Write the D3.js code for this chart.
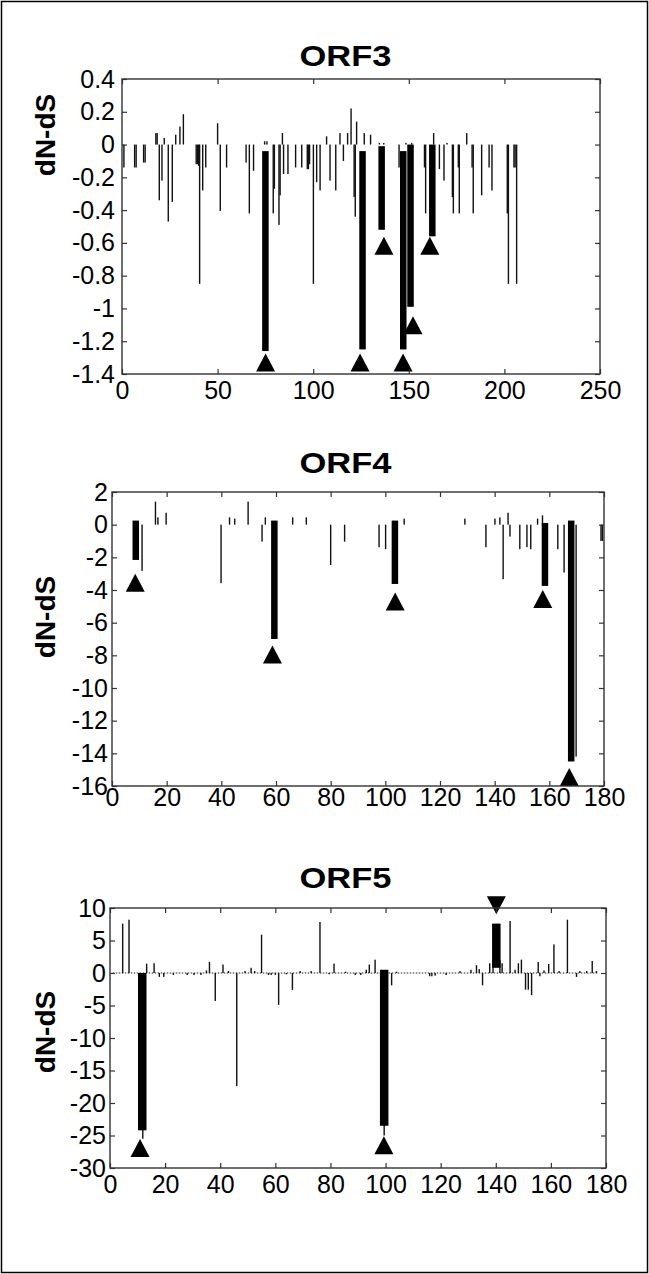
<!DOCTYPE html>
<html>
<head>
<meta charset="utf-8">
<script src="https://cdn.jsdelivr.net/npm/d3@7"></script>
<style>
  body { margin: 0; background: #fff; }
  text { font-family: 'Liberation Sans', Arial, Helvetica, sans-serif; fill: #000; }
</style>
</head>
<body>
<div id="chart"></div>
<script>
// ORF3 -- thin bars [codon, dN-dS]
const orf3Bars = [
  [1.0, -0.14], [6.6, -0.14], [7.4, -0.14], [11.3, -0.11], [12.1, -0.11],
  [17.7, 0.07], [18.4, 0.07], [19.5, -0.34], [20.9, -0.22], [22.1, 0.04],
  [24.2, -0.47], [26.3, -0.35], [28.1, 0.06], [30.3, 0.11], [32.1, 0.185],
  [38.8, -0.12], [39.5, -0.12], [40.1, -0.13], [40.6, -0.85], [42.2, -0.28],
  [43.8, -0.14], [50.0, 0.13], [51.4, -0.405], [54.7, -0.14], [64.9, -0.11],
  [66.6, -0.42], [68.8, -0.16], [74.6, 0.02], [75.8, 0.02], [79.1, -0.42],
  [79.7, -0.27], [82.1, -0.49], [82.7, -0.31], [83.9, 0.07], [84.5, -0.18],
  [86.8, -0.18], [90.8, -0.14], [94.0, -0.14], [96.9, -0.15], [97.5, -0.15],
  [98.1, -0.12], [100.1, -0.85], [101.8, -0.23], [103.6, -0.28], [107.0, 0.05],
  [108.8, -0.22], [111.8, -0.28], [114.0, 0.07], [115.8, -0.1], [118.0, 0.07],
  [119.8, 0.22], [121.4, -0.32], [122.0, -0.44], [122.7, 0.14], [126.7, 0.07],
  [130.0, 0.06], [134.6, 0.01], [136.9, 0.01], [144.9, -0.14], [148.5, 0.01],
  [151.5, 0.01], [158.2, -0.14], [158.8, -0.42], [163.0, 0.07], [166.0, -0.15],
  [168.4, -0.22], [170.0, 0.01], [172.8, -0.32], [173.3, -0.42], [175.9, -0.14],
  [176.4, -0.42], [180.3, 0.07], [183.1, -0.14], [183.7, -0.42], [188.1, -0.31],
  [192.0, -0.14], [193.5, -0.28], [201.5, -0.42], [202.1, -0.85], [205.0, -0.14],
  [205.6, -0.14], [206.4, -0.85]
]
// thick bars [codon, from, to]
const orf3Thick = [
  [75.0, -0.04, -1.26], [125.8, -0.04, -1.25], [135.8, -0.01, -0.52],
  [147.1, -0.04, -1.25], [150.9, 0, -0.99], [162.3, 0, -0.56]
]
// triangle markers [codon, value]
const orf3Up = [[75.1, -1.385], [124.5, -1.385], [137.0, -0.673], [147.0, -1.385], [152.2, -1.157], [161.0, -0.673]]
const orf3XTicks = [0, 50, 100, 150, 200, 250]
const orf3YTicks = [0.4, 0.2, 0, -0.2, -0.4, -0.6, -0.8, -1, -1.2, -1.4]

// ORF4
const orf4Bars = [
  [11.0, -2.83], [15.9, 1.41], [16.8, 0.45], [19.8, 0.73], [39.9, -3.58],
  [43.0, 0.45], [44.9, 0.37], [49.8, 1.41], [54.9, -1.04], [56.1, 0.45],
  [66.1, 0.45], [71.1, 0.45], [80.0, -2.47], [85.1, -1.04], [97.7, -1.38],
  [100.1, -1.5], [106.9, 0.37], [129.1, 0.37], [136.8, -1.38], [140.1, 0.37],
  [141.9, 0.45], [143.1, -3.34], [144.9, 0.73], [145.6, -0.73], [149.2, -1.5],
  [151.8, -1.38], [153.2, -1.5], [155.7, 0.37], [157.5, 0.57], [163.1, -1.5],
  [165.4, -2.93], [169.8, -14.2], [178.9, -1.0], [179.4, -1.0]
]
const orf4Thick = [
  [8.7, 0.25, -2.16], [59.4, 0.25, -7.0], [103.5, 0.25, -3.63],
  [158.4, 0.1, -3.75], [168.0, 0.25, -14.5]
]
const orf4Up = [[8.5, -4.1], [58.7, -8.5], [103.6, -5.25], [157.6, -5.1], [167.3, -16]]
const orf4XTicks = [0, 20, 40, 60, 80, 100, 120, 140, 160, 180]
const orf4YTicks = [2, 0, -2, -4, -6, -8, -10, -12, -14, -16]

// ORF5
const orf5Bars = [
  [4.6, 7.6], [6.9, 8.2], [11.9, -25.5], [13.3, 1.44], [16.0, 1.5],
  [17.9, -0.6], [19.5, -0.6], [23.0, -0.3], [28.0, -0.3], [30.5, -0.3],
  [33.0, -0.3], [35.0, 0.4], [36.1, 1.7], [38.2, -4.3], [41.0, 1.3],
  [43.0, 0.3], [46.0, -17.4], [49.0, 0.3], [51.2, 0.8], [52.5, 0.3],
  [55.0, 5.9], [57.5, -0.3], [58.5, -0.3], [60.0, -0.3], [61.2, -4.9],
  [64.0, -0.2], [66.2, -2.6], [69.0, 0.3], [73.0, 0.3], [76.2, 7.85],
  [79.5, -0.2], [81.3, 1.44], [85.5, 0.2], [89.0, -0.3], [91.0, -0.3],
  [93.0, 0.5], [94.1, 1.3], [96.2, 2.05], [99.5, -25.0], [102.2, -1.9],
  [104.0, 0.2], [116.0, -0.5], [116.8, -0.5], [118.0, -0.4], [122.0, -0.3],
  [127.0, 0.3], [131.0, 0.5], [133.0, 1.2], [134.0, 0.6], [135.2, -1.9],
  [137.8, 1.5], [139.0, 2.0], [141.5, 2.0], [142.3, 1.5], [145.2, 8.0],
  [147.0, 0.5], [148.2, 1.5], [149.3, 2.05], [150.8, -2.56], [151.8, -2.56],
  [153.0, -3.4], [155.4, 1.7], [156.0, -0.5], [157.5, 0.4], [159.2, 1.4],
  [161.1, 4.4], [163.0, 0.3], [166.0, 8.2], [169.3, -0.6], [170.5, 0.3],
  [173.0, 0.3], [175.0, 1.85], [176.5, 0.3]
]
const orf5Thick = [[11.7, 0, -24.2], [99.5, 0.5, -23.5], [140.2, 0.8, 7.6]]
const orf5Up = [[10.9, -28.3], [99.4, -27.9]]
const orf5Down = [[140.2, 11.8]]
const orf5XTicks = [0, 20, 40, 60, 80, 100, 120, 140, 160, 180]
const orf5YTicks = [10, 5, 0, -5, -10, -15, -20, -25, -30]

const width = 649
const height = 1274

const svg = d3
  .select('#chart')
  .append('svg')
  .attr('width', width)
  .attr('height', height)

svg
  .append('rect')
  .attr('x', 1.5)
  .attr('y', 1.5)
  .attr('width', width - 3)
  .attr('height', height - 3)
  .attr('fill', '#fff')
  .attr('stroke', '#000')
  .attr('stroke-width', 1.5)

const panels = [
  {
    title: 'ORF3', titleY: 66, labelY: 135,
    left: 122, right: 600, top: 79, bottom: 374,
    xDomain: [0, 250], yDomain: [-1.4, 0.4],
    xTicks: orf3XTicks, yTicks: orf3YTicks, xPad: 7, yPad: 7,
    bars: orf3Bars, thick: orf3Thick, up: orf3Up, down: [], thickW: 6.5,
    baseline: null
  },
  {
    title: 'ORF4', titleY: 473, labelY: 617,
    left: 112, right: 604, top: 492, bottom: 786,
    xDomain: [0, 180], yDomain: [-16, 2],
    xTicks: orf4XTicks, yTicks: orf4YTicks, xPad: 2, yPad: 4,
    bars: orf4Bars, thick: orf4Thick, up: orf4Up, down: [], thickW: 6.5,
    baseline: null
  },
  {
    title: 'ORF5', titleY: 888, labelY: 1032,
    left: 110, right: 606, top: 908, bottom: 1168,
    xDomain: [0, 180], yDomain: [-30, 10],
    xTicks: orf5XTicks, yTicks: orf5YTicks, xPad: 7, yPad: 4,
    bars: orf5Bars, thick: orf5Thick, up: orf5Up, down: orf5Down, thickW: 8.5,
    baseline: [1, 177]
  }
]

panels.forEach(drawPanel)

function drawPanel(p) {
  const x = d3.scaleLinear().domain(p.xDomain).range([p.left, p.right])
  const y = d3.scaleLinear().domain(p.yDomain).range([p.bottom, p.top])
  const g = svg.append('g')

  // dotted zero line (ORF5 only)
  if (p.baseline) {
    g.append('line')
      .attr('x1', x(p.baseline[0]))
      .attr('x2', x(p.baseline[1]))
      .attr('y1', y(0))
      .attr('y2', y(0))
      .attr('stroke', '#222')
      .attr('stroke-width', 1.2)
      .attr('stroke-dasharray', '1.5,1.5')
  }

  // thin bars
  g.selectAll('.bar')
    .data(p.bars)
    .enter()
    .append('rect')
    .attr('class', 'bar')
    .attr('x', d => x(d[0]) - 0.7)
    .attr('width', 1.4)
    .attr('y', d => y(Math.max(0, d[1])))
    .attr('height', d => Math.abs(y(d[1]) - y(0)))
    .attr('fill', '#111')

  // thick bars
  g.selectAll('.thick')
    .data(p.thick)
    .enter()
    .append('rect')
    .attr('class', 'thick')
    .attr('x', d => x(d[0]) - p.thickW / 2)
    .attr('width', p.thickW)
    .attr('y', d => Math.min(y(d[1]), y(d[2])))
    .attr('height', d => Math.abs(y(d[1]) - y(d[2])))
    .attr('fill', '#000')

  // triangles
  const tw = 19
  const th = 18
  g.selectAll('.up')
    .data(p.up)
    .enter()
    .append('path')
    .attr('class', 'up')
    .attr('d', d => {
      const cx = x(d[0])
      const cy = y(d[1])
      return `M${cx},${cy - th}L${cx + tw / 2},${cy}L${cx - tw / 2},${cy}Z`
    })
    .attr('fill', '#000')

  g.selectAll('.down')
    .data(p.down)
    .enter()
    .append('path')
    .attr('class', 'down')
    .attr('d', d => {
      const cx = x(d[0])
      const cy = y(d[1])
      return `M${cx - tw / 2},${cy}L${cx + tw / 2},${cy}L${cx},${cy + th}Z`
    })
    .attr('fill', '#000')

  // axes, MATLAB style ticks inside the box
  const fmt = d => String(d)

  const xAxis = g.append('g')
    .attr('transform', `translate(0,${p.bottom})`)
    .call(d3.axisBottom(x).tickValues(p.xTicks).tickSize(-5).tickPadding(p.xPad).tickFormat(fmt))
  const xTop = g.append('g')
    .attr('transform', `translate(0,${p.top})`)
    .call(d3.axisTop(x).tickValues(p.xTicks).tickSize(-5).tickFormat(''))
  const yAxis = g.append('g')
    .attr('transform', `translate(${p.left},0)`)
    .call(d3.axisLeft(y).tickValues(p.yTicks).tickSize(-5).tickPadding(p.yPad).tickFormat(fmt))
  const yRight = g.append('g')
    .attr('transform', `translate(${p.right},0)`)
    .call(d3.axisRight(y).tickValues(p.yTicks).tickSize(-5).tickFormat(''))

  ;[xAxis, xTop, yAxis, yRight].forEach(a => {
    a.select('.domain').remove()
    a.selectAll('line').attr('stroke', '#333').attr('stroke-width', 1.2)
    a.selectAll('text')
      .attr('font-size', 25)
      .attr('font-family', "'Liberation Sans', Arial, sans-serif")
      .attr('fill', '#000')
  })

  // box
  g.append('rect')
    .attr('x', p.left)
    .attr('y', p.top)
    .attr('width', p.right - p.left)
    .attr('height', p.bottom - p.top)
    .attr('fill', 'none')
    .attr('stroke', '#333')
    .attr('stroke-width', 1.4)

  // title
  g.append('text')
    .attr('x', 345.5)
    .attr('y', p.titleY)
    .attr('text-anchor', 'middle')
    .attr('font-size', 30)
    .attr('font-weight', 'bold')
    .attr('textLength', 92)
    .attr('lengthAdjust', 'spacingAndGlyphs')
    .text(p.title)

  // y label
  g.append('text')
    .attr('transform', `translate(55,${p.labelY}) rotate(-90)`)
    .attr('text-anchor', 'middle')
    .attr('font-size', 28)
    .attr('font-weight', 'bold')
    .text('dN-dS')
}
</script>
</body>
</html>
